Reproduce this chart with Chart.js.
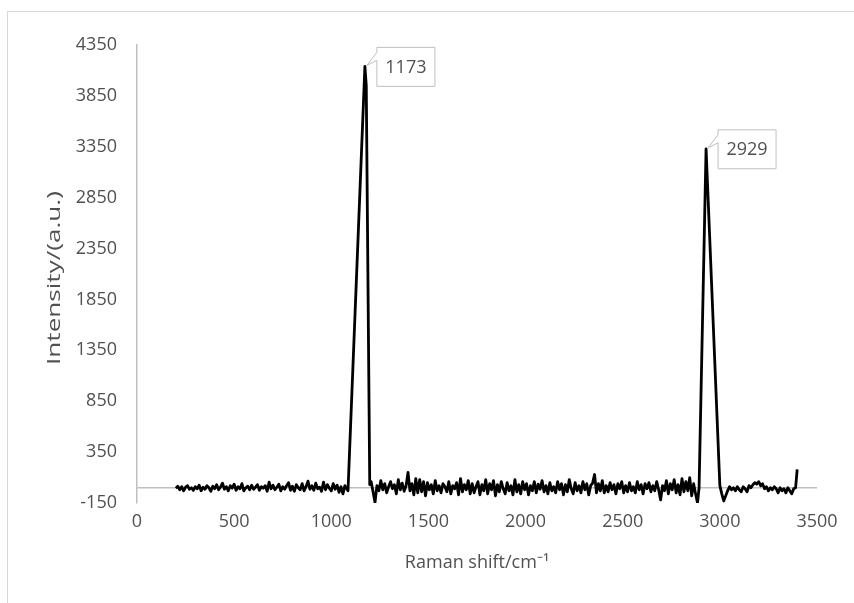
<!DOCTYPE html>
<html>
<head>
<meta charset="utf-8">
<script src="https://cdn.jsdelivr.net/npm/chart.js@4.4.0/dist/chart.umd.min.js"></script>
<style>
  html, body { margin: 0; padding: 0; background: #fff; }
  #wrap { position: relative; width: 854px; height: 603px; overflow: hidden; }
  #frame { position: absolute; left: 7px; top: 11px; width: 900px; height: 700px; border: 1px solid #d9d9d9; }
  canvas { position: absolute; left: 0; top: 0; }
</style>
</head>
<body>
<div id="wrap">
  <div id="frame"></div>
  <canvas id="ramanChart" width="854" height="603"></canvas>
</div>
<script>
// Datos (Raman shift / intensidad)
const shift = [
  // linea base 200-1080
  200, 210, 220, 230, 240, 250, 260, 270, 280, 290,
  300, 310, 320, 330, 340, 350, 360, 370, 380, 390,
  400, 410, 420, 430, 440, 450, 460, 470, 480, 490,
  500, 510, 520, 530, 540, 550, 560, 570, 580, 590,
  600, 610, 620, 630, 640, 650, 660, 670, 680, 690,
  700, 710, 720, 730, 740, 750, 760, 770, 780, 790,
  800, 810, 820, 830, 840, 850, 860, 870, 880, 890,
  900, 910, 920, 930, 940, 950, 960, 970, 980, 990,
  1000, 1010, 1020, 1030, 1040, 1050, 1060, 1070, 1080,
  // pico 1173
  1086, 1173, 1180, 1198,
  // linea base 1205-2893
  1205, 1215, 1225, 1235, 1245, 1255, 1265, 1275, 1285, 1295,
  1305, 1315, 1325, 1335, 1345, 1355, 1365, 1375, 1385, 1395,
  1405, 1415, 1425, 1435, 1445, 1455, 1465, 1475, 1485, 1495,
  1505, 1515, 1525, 1535, 1545, 1555, 1565, 1575, 1585, 1595,
  1605, 1615, 1625, 1635, 1645, 1655, 1665, 1675, 1685, 1695,
  1705, 1715, 1725, 1735, 1745, 1755, 1765, 1775, 1785, 1795,
  1805, 1815, 1825, 1835, 1845, 1855, 1865, 1875, 1885, 1895,
  1905, 1915, 1925, 1935, 1945, 1955, 1965, 1975, 1985, 1995,
  2005, 2015, 2025, 2035, 2045, 2055, 2065, 2075, 2085, 2095,
  2105, 2115, 2125, 2135, 2145, 2155, 2165, 2175, 2185, 2195,
  2205, 2215, 2225, 2235, 2245, 2255, 2265, 2275, 2285, 2295,
  2305, 2315, 2325, 2335, 2345, 2355, 2365, 2375, 2385, 2395,
  2405, 2415, 2425, 2435, 2445, 2455, 2465, 2475, 2485, 2495,
  2505, 2515, 2525, 2535, 2545, 2555, 2565, 2575, 2585, 2595,
  2605, 2615, 2625, 2635, 2645, 2655, 2665, 2675, 2685, 2695,
  2705, 2715, 2725, 2735, 2745, 2755, 2765, 2775, 2785, 2795,
  2805, 2815, 2825, 2835, 2845, 2855, 2865, 2875, 2885, 2893,
  // pico 2929
  2929, 3000,
  // linea base 3010-3398
  3010, 3020, 3030, 3040, 3050, 3060, 3070, 3080, 3090, 3100,
  3110, 3120, 3130, 3140, 3150, 3160, 3170, 3180, 3190, 3200,
  3210, 3220, 3230, 3240, 3250, 3260, 3270, 3280, 3290, 3300,
  3310, 3320, 3330, 3340, 3350, 3360, 3370, 3380, 3390, 3398
];

const intensity = [
  -5, 15, -20, 10, -30, 5, 20, -15, 0, -25,
  10, -10, 25, -30, 5, -15, 20, 0, -35, 15,
  -10, 30, -20, 5, 45, -15, 10, -30, 20, -5,
  35, -25, 10, -10, 40, -30, 0, 15, -20, 25,
  -15, 5, 30, -25, 10, -5, 20, -35, 55, -10,
  25, -20, 5, 35, -30, 10, -15, 20, 50, -25,
  15, -35, 30, 0, -20, 40, -30, 10, 65, -15,
  20, -25, 45, -10, 5, -35, 55, -20, 30, -5,
  -30, 40, -15, 25, -45, 10, -60, 20, -10,
  -30, 4140, 3950, 30,
  60, -40, -145, 20, -30, 70, -20, 40, -50, 10,
  60, -10, 30, -60, 80, -20, 45, -35, 20, 150,
  -30, 40, -70, 90, -50, 80, -40, 60, -80, 50,
  -20, 30, -60, 70, -30, 20, -50, 40, 10, -40,
  60, -60, 20, -10, 50, -70, 90, -40, 30, -20,
  70, -60, 40, -50, 10, 60, -70, 30, -30, 80,
  -60, 40, -20, 70, -80, 30, -40, 60, -10, -60,
  50, -30, 20, -70, 80, -40, 30, -60, 60, -20,
  40, -70, 20, -30, 60, -50, 35, -15, 70, -40,
  20, -60, 50, -30, 10, -50, 60, -20, 40, -70,
  30, -40, 80, -10, -60, 50, -30, 20, -50, 60,
  -20, 40, -70, 20, 45, 130, -50, 40, -30, 70,
  -50, 20, -40, 50, -20, 30, -60, 40, -10, 60,
  -50, 20, -40, 50, -30, 10, -50, 60, -20, 30,
  -60, 40, -10, 50, -40, 20, -30, 60, -20, -120,
  20, -30, 70, -60, 40, -20, 80, -50, 30, -70,
  90, -40, 60, -30, 100, -80, 40, -60, -150, 0,
  3330, 20,
  -60, -130, -80, -30, 10, -20, 0, -30, 10, -20,
  -40, 10, -10, -40, 20, 0, 30, 50, 35, 60,
  20, 40, -10, 10, -30, 0, -20, 10, -10, -50,
  0, -30, -10, -50, 0, -30, -60, -10, 0, 180
];

const peakShifts = [1173, 2929];
const xTicks = [0, 500, 1000, 1500, 2000, 2500, 3000, 3500];
const yTicks = [-150, 350, 850, 1350, 1850, 2350, 2850, 3350, 3850, 4350];
const xTitle = 'Raman shift/cm⁻¹';
const yTitle = 'Intensity/(a.u.)';

const TEXT_COLOR = '#505050';
const AXIS_COLOR = '#bfbfbf';
const FONT = 'Open Sans';

// Etiquetas tipo "callout" sobre los picos
const calloutPlugin = {
  id: 'callouts',
  afterDatasetsDraw(chart) {
    const ctx = chart.ctx;
    const meta = chart.getDatasetMeta(0);
    ctx.save();
    ctx.font = `18px "${FONT}"`;
    peakShifts.forEach(p => {
      const pt = meta.data[shift.indexOf(p)];
      const bx = pt.x + 12, by = pt.y - 19, bw = 58, bh = 39;
      ctx.beginPath();
      ctx.moveTo(bx, by);
      ctx.lineTo(bx + bw, by);
      ctx.lineTo(bx + bw, by + bh);
      ctx.lineTo(bx, by + bh);
      ctx.lineTo(bx, by + 13);
      ctx.lineTo(pt.x + 2, pt.y - 1);
      ctx.lineTo(bx, by + 5);
      ctx.closePath();
      ctx.fillStyle = '#fff';
      ctx.fill();
      ctx.strokeStyle = AXIS_COLOR;
      ctx.lineWidth = 1;
      ctx.stroke();
      ctx.fillStyle = TEXT_COLOR;
      ctx.textAlign = 'center';
      ctx.textBaseline = 'middle';
      ctx.fillText(String(p), bx + bw / 2, by + bh / 2 + 1);
    });
    ctx.restore();
  }
};

// Titulo del eje Y (algo estirado como en el original)
const yTitlePlugin = {
  id: 'yTitle',
  afterDraw(chart) {
    const { ctx, chartArea } = chart;
    ctx.save();
    ctx.translate(55, (chartArea.top + chartArea.bottom) / 2 + 4);
    ctx.rotate(-Math.PI / 2);
    ctx.scale(1.45, 1);
    ctx.font = `18px "${FONT}"`;
    ctx.fillStyle = TEXT_COLOR;
    ctx.textAlign = 'center';
    ctx.textBaseline = 'middle';
    ctx.fillText(yTitle, 0, 0);
    ctx.restore();
  }
};

const tickFont = { family: FONT, size: 18 };

new Chart(document.getElementById('ramanChart'), {
  type: 'line',
  data: {
    datasets: [{
      data: shift.map((s, i) => ({ x: s, y: intensity[i] })),
      borderColor: '#000',
      borderWidth: 2.8,
      borderJoinStyle: 'round',
      pointRadius: 0,
      tension: 0,
      fill: false
    }]
  },
  options: {
    responsive: false,
    animation: false,
    layout: { padding: { left: 0, top: 45, right: 37, bottom: 0 } },
    plugins: { legend: { display: false }, tooltip: { enabled: false } },
    scales: {
      x: {
        type: 'linear',
        min: 0,
        max: 3500,
        afterBuildTicks: s => { s.ticks = xTicks.map(v => ({ value: v })); },
        afterFit: s => { s.height = 100; },
        grid: { display: false, drawTicks: false },
        border: { display: false },
        ticks: { color: TEXT_COLOR, font: tickFont, padding: 8, maxRotation: 0, autoSkip: false, callback: v => String(v) },
        title: { display: true, text: xTitle, color: TEXT_COLOR, font: tickFont, padding: { top: 0, bottom: 29 } }
      },
      y: {
        type: 'linear',
        min: -150,
        max: 4350,
        afterBuildTicks: s => { s.ticks = yTicks.concat([0]).map(v => ({ value: v })); },
        afterFit: s => { s.width = 137; },
        grid: {
          color: c => (c.tick && c.tick.value === 0 ? AXIS_COLOR : 'rgba(0,0,0,0)'),
          lineWidth: 1.5,
          drawTicks: false
        },
        border: { display: true, color: AXIS_COLOR, width: 1.5 },
        ticks: {
          color: TEXT_COLOR,
          font: tickFont,
          padding: 20,
          autoSkip: false,
          callback: v => (v === 0 ? '' : String(v))
        }
      }
    }
  },
  plugins: [calloutPlugin, yTitlePlugin]
});
</script>
</body>
</html>
